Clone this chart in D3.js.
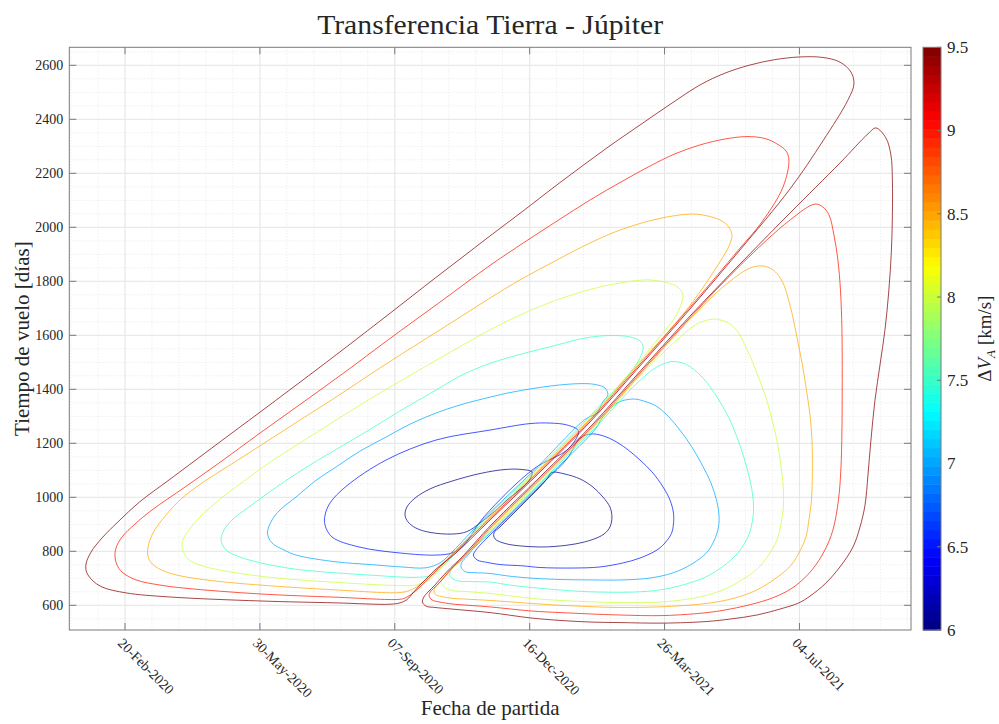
<!DOCTYPE html>
<html><head><meta charset="utf-8">
<script src="https://cdn.jsdelivr.net/npm/d3@7"></script>
<style>
body{margin:0;background:#fff}
svg{display:block}
text{font-family:"Liberation Serif","Times New Roman",serif;fill:#262626}
</style>
</head><body><svg id="c" width="999" height="724"></svg>
<script>
// ---------------- data ----------------
// departure day counted from 01-Jan-2020, time of flight [days]
const levels = [6.0, 6.5, 7.0, 7.5, 8.0, 8.5, 9.0, 9.5];
const xTickDays = [50, 150, 250, 350, 450, 550];
const xTickLabels = ["20-Feb-2020","30-May-2020","07-Sep-2020","16-Dec-2020","26-Mar-2021","04-Jul-2021"];
const yTicks = [600, 800, 1000, 1200, 1400, 1600, 1800, 2000, 2200, 2400, 2600];
const cbTicks = [6, 6.5, 7, 7.5, 8, 8.5, 9, 9.5];
const cbLabels = ["6","6.5","7","7.5","8","8.5","9","9.5"];

// left lobe (early departures) contours: [day, tof]
const L60 = [[351.7,1094],[344.3,1103],[331.7,1103],[313.2,1088],[292.4,1060],[276.1,1031],[265.0,997],[259.0,964],[257.6,934],[259.8,909],[265.7,886],[276.1,870],[293.1,864],[303.5,873],[313.2,905],[324.3,949],[333.2,990],[341.3,1023],[348.0,1053],[351.0,1075]];
const L65 = [[385.8,1249],[377.6,1268],[365.1,1275],[350.2,1273],[320.6,1249],[280.5,1212],[243.5,1138],[213.8,1040],[202.0,979],[198.3,934],[198.3,897],[203.5,853],[223.5,816],[255.3,793],[280.5,786],[292.4,794],[300.6,820],[316.4,929],[353.5,1107],[377.6,1175],[385.8,1231]];
const L70 = [[408.0,1379],[405.8,1405],[398.4,1418],[387.3,1421],[365.1,1412],[337.6,1390],[320.6,1371],[298.3,1342],[280.5,1312],[261.3,1271],[243.5,1223],[224.2,1171],[206.4,1112],[190.8,1060],[176.8,1001],[164.9,953],[159.0,916],[155.6,868],[159.0,831],[167.9,805],[176.8,786],[206.4,761],[231.6,751],[255.3,742],[273.1,739],[283.5,757],[292.4,797],[317.0,926],[354.1,1104],[391.2,1289],[399.9,1312],[404.3,1354]];
const L75 = [[434.1,1557],[431.8,1579],[424.4,1594],[409.5,1599],[391.0,1590],[370.2,1564],[346.5,1534],[320.6,1496],[298.3,1449],[280.5,1397],[253.9,1320],[230.9,1249],[205.7,1175],[181.2,1101],[161.2,1034],[141.9,964],[129.3,916],[123.4,879],[121.2,842],[124.9,805],[133.0,783],[141.9,768],[161.2,746],[181.2,731],[230.9,712],[267.9,704],[277.6,712],[288.0,757],[298.3,812],[317.6,923],[354.7,1101],[391.8,1286],[429.6,1497]];
const L80 = [[463.6,1749],[460.7,1775],[454.0,1792],[442.9,1803],[434.1,1805],[402.1,1779],[370.2,1731],[342.8,1675],[320.6,1620],[307.2,1583],[279.8,1505],[255.3,1434],[231.6,1364],[206.4,1286],[179.7,1201],[156.7,1127],[135.2,1049],[119.7,990],[105.6,927],[97.4,879],[93.0,842],[92.3,816],[94.5,786],[97.4,768],[105.6,749],[119.7,731],[156.7,704],[206.4,685],[255.3,673],[265.7,675],[275.4,694],[285.0,742],[294.6,797],[318.1,920],[355.2,1098],[392.3,1283],[429.4,1491],[444.4,1583],[459.2,1679]];
const L85 = [[500.0,1971],[497.0,2005],[491.1,2027],[480.0,2044],[468.8,2049],[446.6,2033],[419.2,1994],[394.7,1942],[370.2,1879],[342.8,1805],[320.6,1738],[296.1,1660],[271.7,1583],[239.0,1479],[206.4,1371],[179.7,1286],[156.7,1212],[131.5,1131],[107.1,1053],[90.8,990],[77.4,916],[70.8,868],[67.8,831],[66.7,794],[68.5,764],[73.0,742],[81.9,721],[95.2,705],[120.4,688],[150.1,675],[206.4,657],[255.3,648],[262.8,659],[270.2,683],[280.5,731],[290.9,783],[318.7,918],[355.8,1096],[392.9,1281],[430.0,1489],[467.7,1703],[493.3,1890],[497.8,1931]];
const L90 = [[542.2,2249],[540.0,2283],[533.3,2309],[524.4,2329],[511.1,2336],[494.8,2327],[476.2,2305],[457.7,2272],[439.2,2227],[419.2,2172],[394.7,2101],[370.2,2023],[346.5,1946],[320.6,1859],[283.5,1723],[245.0,1583],[213.1,1464],[181.2,1349],[150.1,1238],[119.7,1127],[94.5,1038],[70.0,953],[57.4,901],[47.8,853],[43.3,812],[42.6,779],[44.1,749],[47.8,723],[58.2,694],[75.9,675],[95.2,663],[150.1,642],[206.4,630],[253.1,622],[257.6,627],[262.0,640],[267.9,664],[277.6,712],[287.2,760],[294.8,797],[319.2,915],[356.3,1093],[393.4,1278],[430.5,1486],[468.2,1700],[505.3,1919],[522.2,2020],[537.8,2149]];
const L95 = [[590.4,2531],[588.2,2575],[580.0,2612],[567.4,2629],[550.4,2631],[531.8,2621],[513.3,2601],[494.8,2571],[476.2,2527],[455.5,2460],[431.8,2379],[407.3,2294],[370.2,2157],[345.0,2060],[320.6,1968],[299.8,1888],[277.6,1803],[255.3,1716],[221.2,1584],[191.6,1471],[151.6,1321],[112.3,1175],[82.6,1064],[61.1,984],[44.8,909],[32.9,849],[24.8,797],[21.1,753],[21.5,723],[25.5,694],[32.9,668],[50.7,646],[82.6,631],[150.1,616],[206.4,609],[246.4,604],[253.9,609],[259.0,621],[263.5,646],[268.7,675],[274.6,705],[280.5,734],[295.4,794],[319.8,912],[356.9,1090],[394.0,1275],[431.1,1483],[468.8,1697],[505.9,1916],[543.0,2142],[567.4,2320],[585.9,2471]];

// right lobe (late departures) contours: [day, tof]
const R60 = [[366.5,1092],[376.2,1086],[387.3,1068],[396.9,1038],[404.3,1001],[409.5,964],[411.0,927],[409.5,890],[405.1,864],[396.9,844],[383.6,827],[368.8,818],[357.6,816],[342.8,820],[331.7,829],[324.3,846],[323.5,868],[328.0,890],[335.4,927],[342.8,964],[350.2,1001],[357.6,1038],[362.8,1068]];
const R65 = [[394.7,1234],[402.1,1231],[411.8,1212],[422.1,1179],[431.8,1138],[440.7,1094],[448.9,1038],[454.0,990],[456.6,942],[456.6,901],[455.1,866],[450.3,831],[444.4,805],[431.8,775],[419.2,757],[402.1,742],[382.1,738],[357.6,740],[345.0,746],[328.0,751],[318.4,759],[311.0,768],[308.3,786],[311.0,810],[315.4,834],[325.4,884],[361.7,1062],[377.6,1142],[387.3,1219]];
const R70 = [[426.6,1364],[435.5,1355],[444.4,1336],[453.3,1297],[461.4,1249],[470.3,1186],[478.5,1114],[484.4,1053],[488.5,990],[490.3,938],[490.0,890],[486.6,838],[481.4,796],[470.3,753],[456.2,720],[439.2,701],[419.2,694],[394.7,694],[370.2,696],[350.2,701],[333.2,709],[320.6,718],[308.7,721],[302.0,725],[299.1,742],[299.8,760],[303.5,781],[308.7,812],[324.9,887],[361.2,1065],[398.3,1250],[404.3,1297],[414.7,1349]];
const R75 = [[455.5,1503],[462.2,1499],[468.8,1484],[479.2,1438],[488.9,1371],[497.0,1301],[503.7,1223],[508.9,1146],[513.3,1064],[515.5,1001],[515.9,942],[514.1,886],[510.7,842],[503.7,790],[493.3,744],[482.2,709],[468.8,683],[450.3,660],[431.8,650],[394.7,650],[357.6,663],[335.4,675],[320.6,686],[305.7,688],[295.4,692],[290.9,709],[291.7,731],[295.4,751],[302.0,786],[324.3,890],[360.6,1068],[397.7,1253],[429.6,1423],[444.4,1483]];
const R80 = [[485.9,1660],[492.6,1655],[498.5,1642],[504.4,1612],[508.9,1571],[513.3,1523],[518.5,1460],[525.2,1368],[530.4,1275],[534.3,1183],[537.0,1090],[538.1,1027],[538.1,964],[536.3,901],[533.3,842],[526.7,783],[518.5,734],[507.4,694],[493.3,657],[476.2,631],[449.6,613],[416.9,610],[394.7,613],[372.5,618],[351.0,626],[320.6,644],[302.0,651],[292.4,655],[286.5,668],[284.3,686],[286.1,709],[290.2,725],[296.9,760],[323.8,893],[360.1,1071],[397.2,1256],[434.3,1463],[459.2,1583],[474.0,1642]];
const R85 = [[522.2,1857],[528.1,1849],[533.3,1829],[537.8,1794],[540.7,1753],[544.4,1683],[548.1,1594],[551.8,1501],[555.2,1397],[557.8,1305],[559.3,1212],[559.6,1101],[558.9,990],[557.0,916],[554.8,853],[549.6,794],[543.0,744],[531.8,698],[518.5,657],[502.2,627],[481.4,607],[449.6,595],[416.9,592],[394.7,595],[372.5,600],[351.0,607],[320.6,618],[302.0,623],[292.4,626],[284.3,633],[280.2,640],[279.1,657],[281.3,675],[285.0,694],[292.4,738],[300.2,770],[323.2,895],[359.5,1073],[396.6,1258],[433.7,1465],[469.9,1665],[493.3,1779],[513.3,1849]];
const R90 = [[561.5,2086],[567.4,2075],[571.9,2046],[575.6,1971],[578.5,1879],[580.4,1768],[581.5,1620],[581.7,1434],[581.5,1249],[580.7,1101],[578.9,990],[574.8,879],[568.9,805],[559.3,731],[546.7,671],[533.3,634],[518.5,609],[498.5,586],[481.4,573],[449.6,562],[416.9,564],[394.7,568],[372.5,573],[351.0,579],[320.6,594],[292.4,605],[283.5,612],[277.6,620],[275.4,636],[276.8,653],[280.5,670],[285.0,694],[288.7,716],[294.6,749],[299.7,772],[322.7,898],[359.0,1076],[396.1,1261],[433.2,1468],[469.4,1668],[506.5,1861],[543.0,2027]];
const R95 = [[606.7,2368],[614.1,2331],[617.8,2268],[618.9,2175],[618.9,2046],[618.2,1916],[616.3,1768],[613.4,1620],[609.7,1490],[606.0,1360],[603.0,1212],[600.8,1083],[598.6,971],[594.9,890],[589.7,816],[580.0,742],[568.9,679],[557.8,634],[549.6,609],[535.5,586],[518.5,564],[498.5,549],[481.4,540],[449.6,534],[416.9,536],[394.7,538],[372.5,544],[351.0,553],[320.6,573],[292.4,586],[279.8,592],[273.1,597],[270.5,612],[271.6,631],[274.6,649],[279.8,675],[285.0,705],[291.7,740],[299.1,775],[322.1,901],[358.4,1079],[395.5,1264],[432.6,1471],[468.8,1671],[505.9,1864],[543.0,2053],[580.0,2238],[600.8,2346]];

const contours = [
  {level:6.0, curves:[L60, R60]},
  {level:6.5, curves:[L65, R65]},
  {level:7.0, curves:[L70, R70]},
  {level:7.5, curves:[L75, R75]},
  {level:8.0, curves:[L80, R80]},
  {level:8.5, curves:[L85, R85]},
  {level:9.0, curves:[L90, R90]},
  {level:9.5, curves:[L95, R95]}
];

// ---------------- drawing ----------------
const svg = d3.select("#c");
const P = {l:69.3, r:911, t:47.3, b:630};
const x = d3.scaleLinear().domain([8.7, 632.7]).range([P.l, P.r]);
const y = d3.scaleLinear().domain([508.5, 2666.7]).range([P.b, P.t]);
const cMin = 6, cMax = 9.5;

function jet(t){
  const c = v => Math.max(0, Math.min(1, v));
  const r = c(1.5 - Math.abs(4*t - 3)), g = c(1.5 - Math.abs(4*t - 2)), b = c(1.5 - Math.abs(4*t - 1));
  return d3.rgb(r*255, g*255, b*255);
}
function jet64(i){ return jet((i + 0.5) / 64); }
function levelColor(L){
  let i = Math.floor((L - cMin) / (cMax - cMin) * 64);
  i = Math.max(0, Math.min(63, i));
  return jet64(i);
}

svg.append("defs").append("clipPath").attr("id","clip")
  .append("rect").attr("x",P.l).attr("y",P.t).attr("width",P.r-P.l).attr("height",P.b-P.t);

const grid = svg.append("g");
const xMinor = d3.range(10, 633, 20);
const yMinor = d3.range(550, 2667, 50);
grid.selectAll(".xm").data(xMinor).join("line")
  .attr("x1", d => x(d)).attr("x2", d => x(d)).attr("y1", P.t).attr("y2", P.b)
  .attr("stroke", "#e2e2e2").attr("stroke-width", 0.8).attr("stroke-dasharray", "1,2");
grid.selectAll(".ym").data(yMinor).join("line")
  .attr("y1", d => y(d)).attr("y2", d => y(d)).attr("x1", P.l).attr("x2", P.r)
  .attr("stroke", "#e2e2e2").attr("stroke-width", 0.8).attr("stroke-dasharray", "1,2");
grid.selectAll(".xM").data(xTickDays).join("line")
  .attr("x1", d => x(d)).attr("x2", d => x(d)).attr("y1", P.t).attr("y2", P.b)
  .attr("stroke", "#e6e6e6").attr("stroke-width", 1);
grid.selectAll(".yM").data(yTicks).join("line")
  .attr("y1", d => y(d)).attr("y2", d => y(d)).attr("x1", P.l).attr("x2", P.r)
  .attr("stroke", "#e6e6e6").attr("stroke-width", 1);

const line = d3.line().x(d => x(d[0])).y(d => y(d[1])).curve(d3.curveCatmullRomClosed.alpha(0.5));
const cg = svg.append("g").attr("clip-path","url(#clip)");
contours.forEach(c => {
  c.curves.forEach(pts => {
    cg.append("path").attr("d", line(pts)).attr("fill","none")
      .attr("stroke", levelColor(c.level)).attr("stroke-width", 1)
      .attr("stroke-opacity", 0.72).attr("stroke-linejoin","round");
  });
});

const axc = "#7a7a7a";
svg.append("rect").attr("x",P.l).attr("y",P.t).attr("width",P.r-P.l).attr("height",P.b-P.t)
  .attr("fill","none").attr("stroke",axc).attr("stroke-width",1);
const tk = 7;
svg.selectAll(".xtb").data(xTickDays).join("line")
  .attr("x1", d => x(d)).attr("x2", d => x(d)).attr("y1", P.b).attr("y2", P.b - tk).attr("stroke", axc);
svg.selectAll(".xtt").data(xTickDays).join("line")
  .attr("x1", d => x(d)).attr("x2", d => x(d)).attr("y1", P.t).attr("y2", P.t + tk).attr("stroke", axc);
svg.selectAll(".ytl").data(yTicks).join("line")
  .attr("y1", d => y(d)).attr("y2", d => y(d)).attr("x1", P.l).attr("x2", P.l + tk).attr("stroke", axc);
svg.selectAll(".ytr").data(yTicks).join("line")
  .attr("y1", d => y(d)).attr("y2", d => y(d)).attr("x1", P.r).attr("x2", P.r - tk).attr("stroke", axc);

svg.selectAll(".ylab").data(yTicks).join("text")
  .attr("x", P.l - 6).attr("y", d => y(d)).attr("dy", "0.35em")
  .attr("text-anchor","end").attr("font-size", 14).text(d => d);
svg.selectAll(".xlab").data(xTickDays).join("text")
  .attr("transform", d => `translate(${x(d) - 8},${P.b + 14}) rotate(45)`)
  .attr("text-anchor","start").attr("font-size", 14)
  .text((d,i) => xTickLabels[i]);

svg.append("text").attr("x", (P.l+P.r)/2).attr("y", 34).attr("text-anchor","middle")
  .attr("font-size", 27).attr("textLength", 346).attr("lengthAdjust","spacingAndGlyphs")
  .text("Transferencia Tierra - Júpiter");
svg.append("text").attr("x", (P.l+P.r)/2).attr("y", 715).attr("text-anchor","middle")
  .attr("font-size", 21).text("Fecha de partida");
svg.append("text").attr("transform", `translate(29,${(P.t+P.b)/2}) rotate(-90)`)
  .attr("text-anchor","middle").attr("font-size", 21).text("Tiempo de vuelo [días]");

const CB = {x0: 923, x1: 941};
const cy = d3.scaleLinear().domain([cMin, cMax]).range([P.b, P.t]);
const bands = d3.range(64);
const bh = (P.b - P.t) / 64;
svg.selectAll(".cb").data(bands).join("rect")
  .attr("x", CB.x0).attr("width", CB.x1 - CB.x0)
  .attr("y", i => P.b - (i+1)*bh).attr("height", bh + 0.5)
  .attr("fill", i => jet64(i));
svg.append("rect").attr("x", CB.x0).attr("y", P.t).attr("width", CB.x1 - CB.x0).attr("height", P.b - P.t)
  .attr("fill","none").attr("stroke", axc).attr("stroke-width", 1);
svg.selectAll(".cbt").data(cbTicks).join("line")
  .attr("x1", CB.x1).attr("x2", CB.x1 - 4).attr("y1", d => cy(d)).attr("y2", d => cy(d))
  .attr("stroke", axc);
svg.selectAll(".cbl").data(cbTicks).join("text")
  .attr("x", CB.x1 + 6).attr("y", d => cy(d)).attr("dy","0.35em")
  .attr("font-size", 17).text((d,i) => cbLabels[i]);
const cbt = svg.append("text").attr("transform", `translate(991,${(P.t+P.b)/2}) rotate(-90)`)
  .attr("text-anchor","middle").attr("font-size", 19);
cbt.append("tspan").text("Δ");
cbt.append("tspan").attr("font-style","italic").text("V");
cbt.append("tspan").attr("font-style","italic").attr("font-size", 13).attr("dy", 4).text("A");
cbt.append("tspan").attr("dy", -4).text(" [km/s]");
</script>
</body></html>
